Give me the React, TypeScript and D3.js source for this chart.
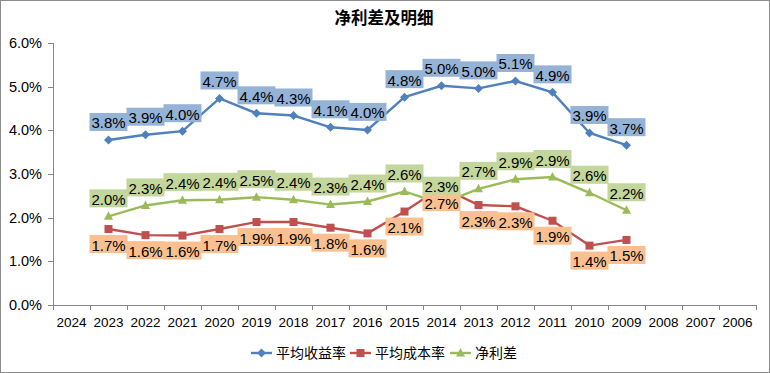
import * as d3 from 'd3';

// categories run from 2024 down to 2006
const years = ['2024', '2023', '2022', '2021', '2020', '2019', '2018', '2017', '2016', '2015', '2014', '2013', '2012', '2011', '2010', '2009', '2008', '2007', '2006'];
const dataYears = ['2023', '2022', '2021', '2020', '2019', '2018', '2017', '2016', '2015', '2014', '2013', '2012', '2011', '2010', '2009'];

// values in percent
const yieldRate = [3.78, 3.9, 3.98, 4.73, 4.39, 4.34, 4.07, 4.01, 4.76, 5.02, 4.96, 5.13, 4.87, 3.94, 3.66];
const costRate = [1.74, 1.6, 1.59, 1.74, 1.9, 1.9, 1.77, 1.64, 2.14, 2.7, 2.29, 2.26, 1.93, 1.36, 1.49];
const netSpread = [2.03, 2.28, 2.4, 2.41, 2.47, 2.41, 2.3, 2.37, 2.6, 2.32, 2.66, 2.88, 2.93, 2.57, 2.17];

const yTicks = [0, 1, 2, 3, 4, 5, 6];
const seriesNames = ['平均收益率', '平均成本率', '净利差'];

const W = 770;
const H = 373;
const sans = "'Liberation Sans', Arial, sans-serif";
const cjk = "'Noto Sans CJK SC', sans-serif";

const series = [
  { name: seriesNames[0], values: yieldRate, color: '#4F81BD', box: '#95B3D7', marker: 'diamond', dy: -18 },
  { name: seriesNames[1], values: costRate, color: '#C0504D', box: '#FAC090', marker: 'square', dy: 15 },
  { name: seriesNames[2], values: netSpread, color: '#9BBB59', box: '#C3D69B', marker: 'triangle', dy: -18 },
];

function Marker({ type, x, y, color }: { type: string; x: number; y: number; color: string }) {
  if (type === 'diamond') {
    return <path d={`M${x},${y - 4.5}L${x + 4.5},${y}L${x},${y + 4.5}L${x - 4.5},${y}Z`} fill={color} />;
  }
  if (type === 'square') {
    return <rect x={x - 4} y={y - 4} width={8} height={8} fill={color} />;
  }
  return <path d={`M${x},${y - 5}L${x + 4.5},${y + 3.5}L${x - 4.5},${y + 3.5}Z`} fill={color} />;
}

export default function App() {
  const x = d3.scaleBand<string>().domain(years).range([53, 756]);
  const y = d3.scaleLinear().domain([0, 6]).range([305, 43]);
  const cx = (yr: string) => (x(yr) as number) + x.bandwidth() / 2;

  const line = d3
    .line<number>()
    .x((_, i) => cx(dataYears[i]))
    .y((d) => y(d));

  const legendItems = [251, 350, 450];

  return (
    <div>
      <style>{'body{margin:0}'}</style>
      <svg width={W} height={H} style={{ display: 'block' }}>
        <rect x={0.5} y={0.5} width={W - 1} height={H - 1} fill="#fff" stroke="#8c8c8c" />
        <text x={384} y={24} textAnchor="middle" fontFamily={cjk} fontWeight="bold" fontSize={16.5} fill="#000">
          净利差及明细
        </text>

        {/* y axis */}
        <line x1={53.5} x2={53.5} y1={y(6)} y2={y(0)} stroke="#868686" />
        {yTicks.map((t) => (
          <g key={t}>
            <line x1={48} x2={53.5} y1={Math.round(y(t)) + 0.5} y2={Math.round(y(t)) + 0.5} stroke="#868686" />
            <text x={42} y={y(t) + 5} textAnchor="end" fontFamily={sans} fontSize={14.5} fill="#000">
              {t.toFixed(1)}%
            </text>
          </g>
        ))}

        {/* x axis */}
        <line x1={53} x2={756} y1={Math.round(y(0)) + 0.5} y2={Math.round(y(0)) + 0.5} stroke="#868686" />
        {years.concat(['']).map((yr, i) => {
          const px = Math.round(53 + i * x.step()) + 0.5;
          return <line key={'t' + i} x1={px} x2={px} y1={y(0)} y2={y(0) + 5} stroke="#868686" />;
        })}
        {years.map((yr) => (
          <text key={yr} x={cx(yr)} y={327} textAnchor="middle" fontFamily={sans} fontSize={13.5} fill="#000">
            {yr}
          </text>
        ))}

        {/* lines and markers */}
        {series.map((s) => (
          <g key={s.name}>
            <path d={line(s.values) as string} fill="none" stroke={s.color} strokeWidth={2.4} />
            {s.values.map((v, i) => (
              <Marker key={i} type={s.marker} x={cx(dataYears[i])} y={y(v)} color={s.color} />
            ))}
          </g>
        ))}

        {/* data labels */}
        {series.map((s) => (
          <g key={s.name + 'l'}>
            {s.values.map((v, i) => {
              const px = cx(dataYears[i]);
              const py = y(v) + s.dy;
              return (
                <g key={i}>
                  <rect x={px - 19} y={py - 9} width={38} height={18} fill={s.box} />
                  <text x={px} y={py + 6.5} textAnchor="middle" fontFamily={sans} fontSize={15} fill="#000">
                    {v.toFixed(1)}%
                  </text>
                </g>
              );
            })}
          </g>
        ))}

        {/* legend */}
        {series.map((s, i) => (
          <g key={s.name + 'g'}>
            <line x1={legendItems[i]} x2={legendItems[i] + 21} y1={353} y2={353} stroke={s.color} strokeWidth={2.4} />
            <Marker type={s.marker} x={legendItems[i] + 10.5} y={353} color={s.color} />
            <text x={legendItems[i] + 25} y={358} fontFamily={cjk} fontSize={14} fill="#000">
              {s.name}
            </text>
          </g>
        ))}
      </svg>
    </div>
  );
}
